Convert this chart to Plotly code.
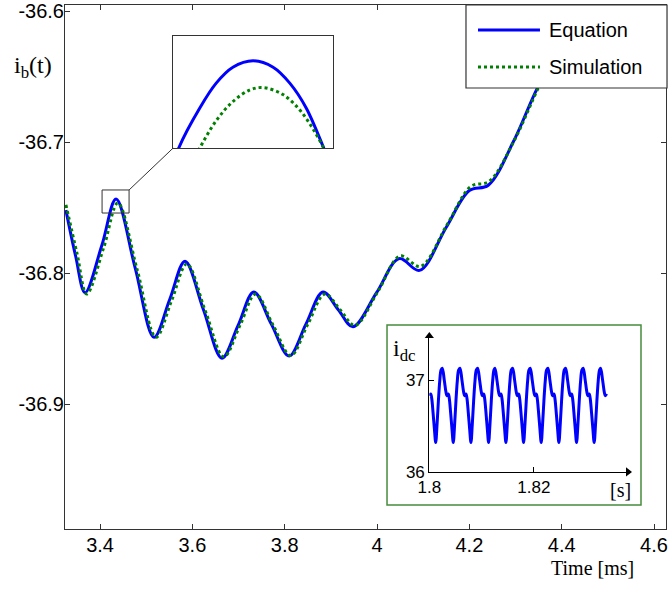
import plotly.graph_objects as go

# ---------------- main curve data (time in ms, current) ----------------
eq_t = [3.326, 3.347, 3.3675, 3.4037, 3.4347, 3.476, 3.517, 3.551, 3.584, 3.624, 3.664,
        3.699, 3.733, 3.771, 3.8095, 3.846, 3.883, 3.916, 3.948, 3.999, 4.048, 4.092,
        4.150, 4.200, 4.241, 4.295, 4.347, 4.400, 4.450]
eq_v = [-36.752, -36.787, -36.815, -36.779, -36.7435, -36.796, -36.849, -36.820, -36.791,
        -36.828, -36.865, -36.840, -36.8145, -36.839, -36.8634, -36.839, -36.8145, -36.828,
        -36.841, -36.815, -36.789, -36.798, -36.765, -36.737, -36.733, -36.700, -36.659,
        -36.625, -36.595]

sim_t = [3.326, 3.350, 3.371, 3.4075, 3.4385, 3.480, 3.521, 3.555, 3.588, 3.628, 3.668,
         3.703, 3.737, 3.775, 3.813, 3.850, 3.887, 3.920, 3.952, 4.002, 4.050, 4.094,
         4.152, 4.203, 4.243, 4.297, 4.349, 4.400, 4.450]
sim_v = [-36.748, -36.785, -36.816, -36.781, -36.7465, -36.797, -36.849, -36.821, -36.793,
         -36.829, -36.864, -36.840, -36.816, -36.840, -36.863, -36.839, -36.816, -36.828,
         -36.840, -36.814, -36.787, -36.795, -36.763, -36.734, -36.730, -36.699, -36.659,
         -36.625, -36.595]

# ---------------- magnified peak (inset) ----------------
mag_eq_t = [3.4043, 3.4064, 3.4141, 3.4201, 3.4262, 3.4336, 3.4409, 3.4470, 3.4530, 3.4594, 3.4616]
mag_eq_v = [-36.7571, -36.7542, -36.7479, -36.7440, -36.7415, -36.7405, -36.7415, -36.7440,
            -36.7479, -36.7542, -36.7566]
mag_sim_t = [3.4116, 3.4141, 3.4201, 3.4262, 3.4323, 3.4372, 3.4445, 3.4506, 3.4555, 3.4594, 3.4616]
mag_sim_v = [-36.7563, -36.7542, -36.7499, -36.7469, -36.7451, -36.7447, -36.7458, -36.7482,
             -36.7512, -36.7542, -36.7562]
zoom_box_t = [3.4043, 3.4628]
zoom_box_v = [-36.7542, -36.7366]

# ---------------- dc current inset (time in s) ----------------
idc_peak_t = [1.79912, 1.80248, 1.80586, 1.80924, 1.81255, 1.81593, 1.81930, 1.82268,
              1.82606, 1.82943, 1.83276]
idc_cycle_dt = [0.0, 0.00038, 0.00070, 0.00089, 0.00115, 0.00134, 0.00159, 0.00185,
                0.00210, 0.00236, 0.00261, 0.00287, 0.00312]
idc_cycle_v = [37.13, 37.00, 36.87, 36.83, 36.85, 36.80, 36.65, 36.47, 36.32, 36.52,
               36.77, 36.99, 37.11]
idc_t_start, idc_t_end = 1.8000, 1.8340
idc_x_range = [1.8, 1.838]
idc_y_range = [36, 37.48]

# tick labels
x_ticks = [3.4, 3.6, 3.8, 4.0, 4.2, 4.4, 4.6]
x_ticktext = ["3.4", "3.6", "3.8", "4", "4.2", "4.4", "4.6"]
y_ticks = [-36.9, -36.8, -36.7, -36.6]
y_ticktext = ["-36.9", "-36.8", "-36.7", "-36.6"]
legend_names = ["Equation", "Simulation"]

idc_t, idc_v = [], []
for p in idc_peak_t:
    for dt, v in zip(idc_cycle_dt, idc_cycle_v):
        t = p + dt
        if idc_t_start <= t <= idc_t_end:
            idc_t.append(t)
            idc_v.append(v)

BLUE = "rgb(0,0,255)"
GREEN = "rgb(0,128,0)"
AX = "#333333"
SANS = "Liberation Sans"
SERIF = "Liberation Serif"

fig = go.Figure()
fig.add_trace(go.Scatter(x=eq_t, y=eq_v, mode="lines", name=legend_names[0], showlegend=False,
                         line=dict(color=BLUE, width=3, shape="spline")))
fig.add_trace(go.Scatter(x=sim_t, y=sim_v, mode="lines", name=legend_names[1], showlegend=False,
                         line=dict(color=GREEN, width=3, dash="dot", shape="spline")))
fig.add_trace(go.Scatter(x=mag_eq_t, y=mag_eq_v, mode="lines", showlegend=False,
                         xaxis="x2", yaxis="y2",
                         line=dict(color=BLUE, width=3, shape="spline")))
fig.add_trace(go.Scatter(x=mag_sim_t, y=mag_sim_v, mode="lines", showlegend=False,
                         xaxis="x2", yaxis="y2",
                         line=dict(color=GREEN, width=3, dash="dot", shape="spline")))
fig.add_trace(go.Scatter(x=idc_t, y=idc_v, mode="lines", showlegend=False,
                         xaxis="x3", yaxis="y3",
                         line=dict(color=BLUE, width=3, shape="spline")))
# arrow heads of the small axes
fig.add_trace(go.Scatter(x=[idc_x_range[1], idc_x_range[0]], y=[idc_y_range[0], idc_y_range[1]],
                         mode="markers", showlegend=False, xaxis="x3", yaxis="y3",
                         cliponaxis=False, hoverinfo="skip",
                         marker=dict(symbol=["triangle-right", "triangle-up"], size=8,
                                     color="black", line=dict(width=0))))

axis_common = dict(showgrid=False, zeroline=False, showline=True, linecolor=AX, linewidth=1,
                   mirror="ticks", ticks="inside", ticklen=5, tickcolor=AX, automargin=False,
                   tickfont=dict(family=SANS, size=20, color="black"))

# legend box (drawn above the curves) in paper coordinates
leg_x0, leg_x1, leg_y0, leg_y1 = 0.6672, 1.0017, 0.8416, 1.0
leg_line_x = [0.6872, 0.7903]
leg_row_y = [0.9523, 0.8817]
leg_text_x = 0.8020

fig.update_layout(
    width=669, height=589,
    margin=dict(l=65, r=3, t=5, b=60),
    paper_bgcolor="white", plot_bgcolor="white",
    showlegend=False,
    xaxis=dict(range=[3.324, 4.626], tickvals=x_ticks, ticktext=x_ticktext,
               ticklabelstandoff=-2, **axis_common),
    yaxis=dict(range=[-36.9954, -36.5954], tickvals=y_ticks, ticktext=y_ticktext,
               ticklabelstandoff=-4, **axis_common),
    xaxis2=dict(domain=[0.1797, 0.4459], anchor="y2", range=[3.4043, 3.4628], automargin=False,
                showgrid=False, zeroline=False, showline=True, mirror=True, linecolor=AX,
                linewidth=1, showticklabels=False, ticks=""),
    yaxis2=dict(domain=[0.7271, 0.9408], anchor="x2", range=[-36.7542, -36.7366], automargin=False,
                showgrid=False, zeroline=False, showline=True, mirror=True, linecolor=AX,
                linewidth=1, showticklabels=False, ticks=""),
    xaxis3=dict(domain=[0.6062, 0.9368], anchor="y3", range=idc_x_range, automargin=False,
                tickvals=[1.8, 1.82], ticktext=["1.8", "1.82"], ticks="inside", ticklen=5,
                tickcolor="black", showgrid=False, zeroline=False, showline=True,
                linecolor="black", linewidth=1.2,
                tickfont=dict(family=SANS, size=17, color="black")),
    yaxis3=dict(domain=[0.1088, 0.3683], anchor="x3", range=idc_y_range, automargin=False,
                tickvals=[36, 37], ticktext=["36", "37"], ticks="inside", ticklen=5,
                tickcolor="black", showgrid=False, zeroline=False, showline=True,
                linecolor="black", linewidth=1.2,
                tickfont=dict(family=SANS, size=17, color="black")),
    shapes=[
        dict(type="rect", xref="x", yref="y", x0=zoom_box_t[0], x1=zoom_box_t[1],
             y0=zoom_box_v[0], y1=zoom_box_v[1], line=dict(color=AX, width=1)),
        dict(type="line", xref="x", yref="y", x0=zoom_box_t[1], y0=zoom_box_v[1],
             x1=3.5582, y1=-36.7046, line=dict(color=AX, width=1)),
        dict(type="rect", xref="paper", yref="paper", x0=0.5358, x1=0.9584,
             y0=0.0458, y1=0.3893, line=dict(color="rgb(70,140,60)", width=1.5)),
        # legend
        dict(type="rect", xref="paper", yref="paper", x0=leg_x0, x1=leg_x1, y0=leg_y0, y1=leg_y1,
             fillcolor="white", line=dict(color=AX, width=1.2), layer="above"),
        dict(type="line", xref="paper", yref="paper", x0=leg_line_x[0], x1=leg_line_x[1],
             y0=leg_row_y[0], y1=leg_row_y[0], line=dict(color=BLUE, width=3)),
        dict(type="line", xref="paper", yref="paper", x0=leg_line_x[0], x1=leg_line_x[1],
             y0=leg_row_y[1], y1=leg_row_y[1], line=dict(color=GREEN, width=3, dash="dot")),
    ],
    annotations=[
        dict(xref="paper", yref="paper", x=leg_text_x, y=leg_row_y[0], text=legend_names[0],
             xanchor="left", yanchor="middle", showarrow=False,
             font=dict(family=SANS, size=20, color="black")),
        dict(xref="paper", yref="paper", x=leg_text_x, y=leg_row_y[1], text=legend_names[1],
             xanchor="left", yanchor="middle", showarrow=False,
             font=dict(family=SANS, size=20, color="black")),
        dict(xref="paper", yref="paper", x=-0.053, y=0.8817, text="i<sub>b</sub>(t)",
             xanchor="center", yanchor="middle", showarrow=False,
             font=dict(family=SERIF, size=24, color="black")),
        dict(xref="paper", yref="paper", x=0.8785, y=-0.0735, text="Time [ms]",
             xanchor="center", yanchor="middle", showarrow=False,
             font=dict(family=SERIF, size=20, color="black")),
        dict(xref="paper", yref="paper", x=0.5657, y=0.3416, text="i<sub>dc</sub>",
             xanchor="center", yanchor="middle", showarrow=False,
             font=dict(family=SERIF, size=24, color="black")),
        dict(xref="paper", yref="paper", x=0.9235, y=0.0744, text="[s]",
             xanchor="center", yanchor="middle", showarrow=False,
             font=dict(family=SERIF, size=20, color="black")),
    ],
)

fig.write_html("out.html", config={"displayModeBar": False},
               post_script="document.body.style.margin='0';")
